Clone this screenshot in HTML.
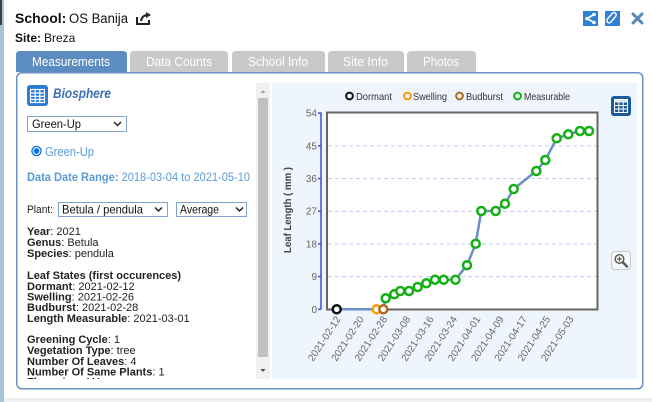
<!DOCTYPE html>
<html><head><meta charset="utf-8"><style>
html,body{margin:0;padding:0;background:#fff;width:652px;height:402px;overflow:hidden}
svg{display:block;font-family:"Liberation Sans",Arial,sans-serif}
</style></head><body>
<svg width="652" height="402" viewBox="0 0 652 402" xmlns="http://www.w3.org/2000/svg">
<defs><clipPath id="lc"><rect x="17" y="83" width="238" height="296"/></clipPath></defs>
<rect x="0" y="0" width="652" height="402" fill="#fff"/>
<rect x="0" y="0" width="4" height="402" fill="#a9c3d6"/>
<rect x="0" y="0" width="2" height="25" fill="#3a3f46"/>
<rect x="4" y="398" width="648" height="4" fill="#eef0f2"/>

<!-- header -->
<text x="15" y="23" font-size="14" font-weight="bold" fill="#111">School:</text>
<text x="69" y="23" font-size="13.5" fill="#111" textLength="59" lengthAdjust="spacingAndGlyphs">OS Banija</text>
<g fill="none" stroke="#222" stroke-width="2">
<path d="M137 17 V24 H149 V20"/>
<path d="M141 21 Q142 15 148 15"/>
</g>
<path d="M146 12 L151 15 L146 18 Z" fill="#222"/>
<text x="15" y="42" font-size="12" font-weight="bold" fill="#111">Site:</text>
<text x="44" y="42" font-size="12" fill="#111">Breza</text>

<!-- top right icons -->
<rect x="583" y="11" width="15" height="15" fill="#2e7fd6"/>
<g stroke="#fff" stroke-width="1.6"><line x1="594" y1="14.5" x2="587" y2="18.5"/><line x1="587" y1="18.5" x2="594" y2="22.5"/></g>
<g fill="#fff"><circle cx="594" cy="14.5" r="1.8"/><circle cx="587" cy="18.5" r="1.8"/><circle cx="594" cy="22.5" r="1.8"/></g>
<rect x="605" y="11" width="15" height="15" fill="#2e7fd6"/>
<g fill="none" stroke="#fff" stroke-width="1.5"><rect x="609" y="12.5" width="4.5" height="12" rx="2.2" transform="rotate(40 612.5 18.5)"/></g>
<g stroke="#5a86b8" stroke-width="3" stroke-linecap="round"><line x1="633" y1="14" x2="642" y2="23"/><line x1="642" y1="14" x2="633" y2="23"/></g>

<!-- tabs -->
<path d="M16 72 V55 Q16 51 20 51 H123 Q127 51 127 55 V72 Z" fill="#5d8cc0"/>
<path d="M130 72 V55 Q130 51 134 51 H224 Q228 51 228 55 V72 Z" fill="#c9c9c9"/>
<path d="M232 72 V55 Q232 51 236 51 H321 Q325 51 325 55 V72 Z" fill="#c9c9c9"/>
<path d="M328 72 V55 Q328 51 332 51 H400 Q404 51 404 55 V72 Z" fill="#c9c9c9"/>
<path d="M407 72 V55 Q407 51 411 51 H472 Q476 51 476 55 V72 Z" fill="#c9c9c9"/>
<g font-size="12.5" fill="#fff">
<text x="32" y="66" textLength="78" lengthAdjust="spacingAndGlyphs">Measurements</text>
<text x="146" y="66" textLength="66" lengthAdjust="spacingAndGlyphs">Data Counts</text>
<text x="248" y="66" textLength="60" lengthAdjust="spacingAndGlyphs">School Info</text>
<text x="343" y="66" textLength="45" lengthAdjust="spacingAndGlyphs">Site Info</text>
<text x="423" y="66" textLength="36" lengthAdjust="spacingAndGlyphs">Photos</text>
</g>

<!-- content box -->
<rect x="16.75" y="72.75" width="626" height="316" rx="5" fill="#fff" stroke="#6a92c2" stroke-width="1.5"/>

<!-- left panel -->
<rect x="27" y="85" width="21" height="21" rx="3" fill="#2b7bd4"/>
<g fill="none" stroke="#fff" stroke-width="1.2">
<rect x="30.5" y="89.5" width="14" height="13"/>
<line x1="30.5" y1="93" x2="44.5" y2="93"/><line x1="30.5" y1="96.3" x2="44.5" y2="96.3"/><line x1="30.5" y1="99.5" x2="44.5" y2="99.5"/>
<line x1="35.2" y1="89.5" x2="35.2" y2="102.5"/><line x1="39.8" y1="89.5" x2="39.8" y2="102.5"/>
</g>
<text x="53" y="98" font-size="13.5" font-weight="bold" font-style="italic" fill="#3e6fb6" textLength="58" lengthAdjust="spacingAndGlyphs">Biosphere</text>

<rect x="27.5" y="116.5" width="99" height="15" fill="#fff" stroke="#7ea3cf"/>
<text x="32" y="128" font-size="12" fill="#111" textLength="49" lengthAdjust="spacingAndGlyphs">Green-Up</text>
<path d="M114 122 L117.5 125.5 L121 122" fill="none" stroke="#222" stroke-width="1.5"/>

<circle cx="36.5" cy="151" r="4.6" fill="#fff" stroke="#0b6fe0" stroke-width="1.3"/>
<circle cx="36.5" cy="151" r="2.9" fill="#0b6fe0"/>
<text x="45" y="156" font-size="12.5" fill="#5b9bd5" textLength="49" lengthAdjust="spacingAndGlyphs">Green-Up</text>

<text x="27" y="181" font-size="11.5" fill="#5b9bd5" textLength="223" lengthAdjust="spacingAndGlyphs"><tspan font-weight="bold">Data Date Range:</tspan> 2018-03-04 to 2021-05-10</text>

<text x="27" y="213" font-size="11" fill="#222" textLength="26" lengthAdjust="spacingAndGlyphs">Plant:</text>
<rect x="58.5" y="202.5" width="109" height="14" fill="#fff" stroke="#7ea3cf"/>
<text x="62" y="213.5" font-size="12" fill="#111" textLength="81" lengthAdjust="spacingAndGlyphs">Betula / pendula</text>
<path d="M155 207.5 L158.5 211 L162 207.5" fill="none" stroke="#222" stroke-width="1.5"/>
<rect x="176.5" y="202.5" width="70" height="14" fill="#fff" stroke="#7ea3cf"/>
<text x="180" y="213.5" font-size="12" fill="#111" textLength="39" lengthAdjust="spacingAndGlyphs">Average</text>
<path d="M236 207.5 L239.5 211 L243 207.5" fill="none" stroke="#222" stroke-width="1.5"/>

<g clip-path="url(#lc)" font-size="11" fill="#222">
<text x="27" y="235"><tspan font-weight="bold">Year</tspan>: 2021</text>
<text x="27" y="246"><tspan font-weight="bold">Genus</tspan>: Betula</text>
<text x="27" y="257"><tspan font-weight="bold">Species</tspan>: pendula</text>
<text x="27" y="279" font-weight="bold">Leaf States (first occurences)</text>
<text x="27" y="290"><tspan font-weight="bold">Dormant</tspan>: 2021-02-12</text>
<text x="27" y="300.5"><tspan font-weight="bold">Swelling</tspan>: 2021-02-26</text>
<text x="27" y="311"><tspan font-weight="bold">Budburst</tspan>: 2021-02-28</text>
<text x="27" y="322"><tspan font-weight="bold">Length Measurable</tspan>: 2021-03-01</text>
<text x="27" y="343"><tspan font-weight="bold">Greening Cycle</tspan>: 1</text>
<text x="27" y="354"><tspan font-weight="bold">Vegetation Type</tspan>: tree</text>
<text x="27" y="365"><tspan font-weight="bold">Number Of Leaves</tspan>: 4</text>
<text x="27" y="375.5"><tspan font-weight="bold">Number Of Same Plants</tspan>: 1</text>
<text x="27" y="385.5"><tspan font-weight="bold">Flowering</tspan>: 111</text>
</g>

<!-- scrollbar -->
<rect x="256" y="83" width="14" height="296" fill="#f1f1f1"/>
<rect x="258" y="98" width="10" height="259" fill="#c1c1c1"/>
<path d="M260.5 93 L263 90 L265.5 93 Z" fill="#a3a3a3"/>
<path d="M260.5 369 L263 372 L265.5 369 Z" fill="#505050"/>

<!-- chart area -->
<rect x="272" y="83" width="365" height="296" fill="#eef5fd"/>

<!-- legend -->
<g fill="none" stroke-width="2">
<circle cx="349.5" cy="96" r="3.4" stroke="#111"/>
<circle cx="407.5" cy="96" r="3.4" stroke="#ff9a10"/>
<circle cx="459.5" cy="96" r="3.4" stroke="#b26a1e"/>
<circle cx="517.5" cy="96" r="3.4" stroke="#12b012"/>
</g>
<g font-size="10.5" fill="#333">
<text x="356" y="100" textLength="36" lengthAdjust="spacingAndGlyphs">Dormant</text>
<text x="413" y="100" textLength="34" lengthAdjust="spacingAndGlyphs">Swelling</text>
<text x="466" y="100" textLength="37" lengthAdjust="spacingAndGlyphs">Budburst</text>
<text x="524" y="100" textLength="46" lengthAdjust="spacingAndGlyphs">Measurable</text>
</g>

<!-- table icon -->
<rect x="611" y="96" width="20" height="20" rx="3" fill="#1d5a9c"/>
<rect x="614" y="99.5" width="14" height="3" fill="#dfe9f5"/>
<g fill="none" stroke="#fff" stroke-width="1">
<rect x="614.5" y="99.5" width="13" height="13"/>
<line x1="614.5" y1="105.5" x2="627.5" y2="105.5"/><line x1="614.5" y1="109" x2="627.5" y2="109"/>
<line x1="618.8" y1="102.5" x2="618.8" y2="112.5"/><line x1="623.2" y1="102.5" x2="623.2" y2="112.5"/>
</g>

<!-- zoom icon -->
<rect x="611.5" y="251.5" width="19" height="18" rx="3" fill="#f7f7f7" stroke="#c8c8c8"/>
<circle cx="619.5" cy="259" r="4.3" fill="#fff" stroke="#555" stroke-width="1.4"/>
<g stroke="#555" stroke-width="1.2"><line x1="617" y1="259" x2="622" y2="259"/><line x1="619.5" y1="256.5" x2="619.5" y2="261.5"/></g>
<line x1="622.8" y1="262.3" x2="627" y2="266.5" stroke="#555" stroke-width="2.4" stroke-linecap="round"/>

<!-- plot -->
<rect x="327" y="112.5" width="270.5" height="197" fill="#fff" stroke="#666" stroke-width="2"/>
<g stroke="#c4c8f2" stroke-width="1" stroke-dasharray="4,3">
<line x1="328" y1="276.6" x2="596.5" y2="276.6"/>
<line x1="328" y1="243.9" x2="596.5" y2="243.9"/>
<line x1="328" y1="211.2" x2="596.5" y2="211.2"/>
<line x1="328" y1="178.6" x2="596.5" y2="178.6"/>
<line x1="328" y1="145.9" x2="596.5" y2="145.9"/>
</g>

<!-- y axis -->
<g stroke="#3b4fd0" stroke-width="1.5">
<line x1="321" y1="112.5" x2="321" y2="309.5"/>
<line x1="318" y1="113" x2="321" y2="113"/><line x1="318" y1="145.9" x2="321" y2="145.9"/><line x1="318" y1="178.6" x2="321" y2="178.6"/>
<line x1="318" y1="211.2" x2="321" y2="211.2"/><line x1="318" y1="243.9" x2="321" y2="243.9"/><line x1="318" y1="276.6" x2="321" y2="276.6"/><line x1="318" y1="309.3" x2="321" y2="309.3"/>
</g>
<g font-size="10" fill="#666" text-anchor="end">
<text x="317" y="116.5">54</text>
<text x="317" y="149.5">45</text>
<text x="317" y="182">36</text>
<text x="317" y="214.7">27</text>
<text x="317" y="247.4">18</text>
<text x="317" y="280">9</text>
<text x="317" y="312.8">0</text>
</g>
<text transform="translate(291 210) rotate(-90)" text-anchor="middle" font-size="10" font-weight="bold" fill="#444" textLength="86" lengthAdjust="spacingAndGlyphs">Leaf Length ( mm )</text>

<!-- x labels -->
<g font-size="10" fill="#666" text-anchor="end">
<text transform="translate(341 319) rotate(-57)">2021-02-12</text>
<text transform="translate(364.3 319) rotate(-57)">2021-02-20</text>
<text transform="translate(387.6 319) rotate(-57)">2021-02-28</text>
<text transform="translate(410.9 319) rotate(-57)">2021-03-08</text>
<text transform="translate(434.2 319) rotate(-57)">2021-03-16</text>
<text transform="translate(457.5 319) rotate(-57)">2021-03-24</text>
<text transform="translate(480.8 319) rotate(-57)">2021-04-01</text>
<text transform="translate(504.1 319) rotate(-57)">2021-04-09</text>
<text transform="translate(527.4 319) rotate(-57)">2021-04-17</text>
<text transform="translate(550.7 319) rotate(-57)">2021-04-25</text>
<text transform="translate(574 319) rotate(-57)">2021-05-03</text>
</g>

<!-- series line -->
<polyline fill="none" stroke="#6b8fc2" stroke-width="2.5" stroke-linejoin="round" points="336.7,309.3 376.7,309.3 383.3,309.3 385.7,298.3 394.3,294.3 400.3,291 409,291 417.7,287 426.3,283.3 435,279.7 443.7,279.7 455.5,279.7 467,265.2 475.7,243.7 481.3,211 495.7,211 505,203.7 513.7,189 536.3,171 545.3,160 556.7,138.3 568.3,134.3 580,131 589,131"/>

<!-- markers -->
<g fill="#fff" stroke-width="2.5">
<circle cx="336.7" cy="309.3" r="4" stroke="#111"/>
<circle cx="376.7" cy="309.3" r="4" stroke="#ff9a10"/>
<circle cx="383.3" cy="309.3" r="4" stroke="#b26a1e"/>
</g>
<g fill="#fff" stroke="#12b012" stroke-width="2.5">
<circle cx="385.7" cy="298.3" r="4"/>
<circle cx="394.3" cy="294.3" r="4"/>
<circle cx="400.3" cy="291" r="4"/>
<circle cx="409" cy="291" r="4"/>
<circle cx="417.7" cy="287" r="4"/>
<circle cx="426.3" cy="283.3" r="4"/>
<circle cx="435" cy="279.7" r="4"/>
<circle cx="443.7" cy="279.7" r="4"/>
<circle cx="455.5" cy="279.7" r="4"/>
<circle cx="467" cy="265.2" r="4"/>
<circle cx="475.7" cy="243.7" r="4"/>
<circle cx="481.3" cy="211" r="4"/>
<circle cx="495.7" cy="211" r="4"/>
<circle cx="505" cy="203.7" r="4"/>
<circle cx="513.7" cy="189" r="4"/>
<circle cx="536.3" cy="171" r="4"/>
<circle cx="545.3" cy="160" r="4"/>
<circle cx="556.7" cy="138.3" r="4"/>
<circle cx="568.3" cy="134.3" r="4"/>
<circle cx="580" cy="131" r="4"/>
<circle cx="589" cy="131" r="4"/>
</g>
</svg>
</body></html>
